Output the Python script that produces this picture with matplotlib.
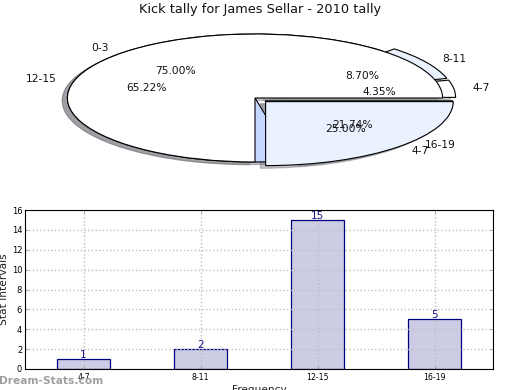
import matplotlib
matplotlib.use("Agg")
import matplotlib.pyplot as plt

title = "Kick tally for James Sellar - 2010 tally"
categories = ["4-7", "8-11", "12-15", "16-19"]
counts = [1, 2, 15, 5]
pie2_labels = ["0-3", "4-7"]
pie2_values = [75, 25]
yticks = list(range(0, 17, 2))
positions = [1, 2, 3, 4]

W, H = 520, 390
fig = plt.figure(figsize=(W / 100, H / 100), dpi=100, facecolor="white")
plt.rcParams["font.family"] = "DejaVu Sans"

def box(l, t, r, b):
    return [l / W, 1 - b / H, (r - l) / W, (b - t) / H]

ax = fig.add_axes(box(20.5, 18, 489.5, 178))
ax.axis("off")
common = dict(autopct="%1.2f%%", shadow=dict(ox=-0.02, oy=-0.03, shade=0.55, alpha=0.4), startangle=0,
              labeldistance=1.1, pctdistance=0.6,
              wedgeprops=dict(edgecolor="black", linewidth=0.8),
              textprops=dict(fontsize=7.7, color="#111111"), frame=False)
ax.pie(counts, labels=categories, explode=[0.07, 0.07, 0, 0.07],
       colors=["white", "#EAF1FF", "#C5D8FF", "white"], **common)
ax.pie(pie2_values, labels=pie2_labels, explode=[0, 0.08],
       colors=["white", "#EAF1FF"], **common)
ax.set_aspect("auto")
ax.set_xlim(-1.25, 1.25)
ax.set_ylim(-1.25, 1.25)
fig.text(260 / W, 1 - 10 / H, title, ha="center", va="center", fontsize=9.3, color="#111111")

bx = fig.add_axes(box(25, 210, 493, 369))
bx.bar(positions, counts, width=0.455, color=(0, 0, 0.5, 0.2), edgecolor="navy", linewidth=0.9, zorder=1)
for p, c in zip(positions, counts):
    bx.text(p, c - 0.1, str(c), ha="center", va="bottom", fontsize=7.5, color="navy", alpha=0.9, zorder=4)
bx.set_xlim(0.5, 4.5)
bx.set_ylim(0, 16)
bx.set_xticks(positions, categories)
bx.set_yticks(yticks)
bx.set_axisbelow("line")
bx.grid(True, color="#bdbdbd", linestyle=":", linewidth=1.0)
bx.tick_params(direction="in", top=True, right=True, length=2.5, width=0.5, color="#888888", pad=3)
bx.tick_params(axis="x", labelsize=5.6)
bx.tick_params(axis="y", labelsize=6.0, pad=2)
for s in bx.spines.values():
    s.set_linewidth(0.8)
fig.text(4.5 / W, 1 - 289.5 / H, "Stat Intervals", rotation=90, ha="center", va="center", fontsize=7.7, color="#222222")
fig.text(259 / W, 1 - 390 / H, "Frequency", ha="center", va="center", fontsize=7.6, color="#222222")
fig.text(-1 / W, 1 - 381 / H, "Dream-Stats.com", ha="left", va="center", fontsize=7.7,
         color="#a0a0a0", fontweight="bold", family="DejaVu Sans")
fig.savefig("out.png", dpi=100)
